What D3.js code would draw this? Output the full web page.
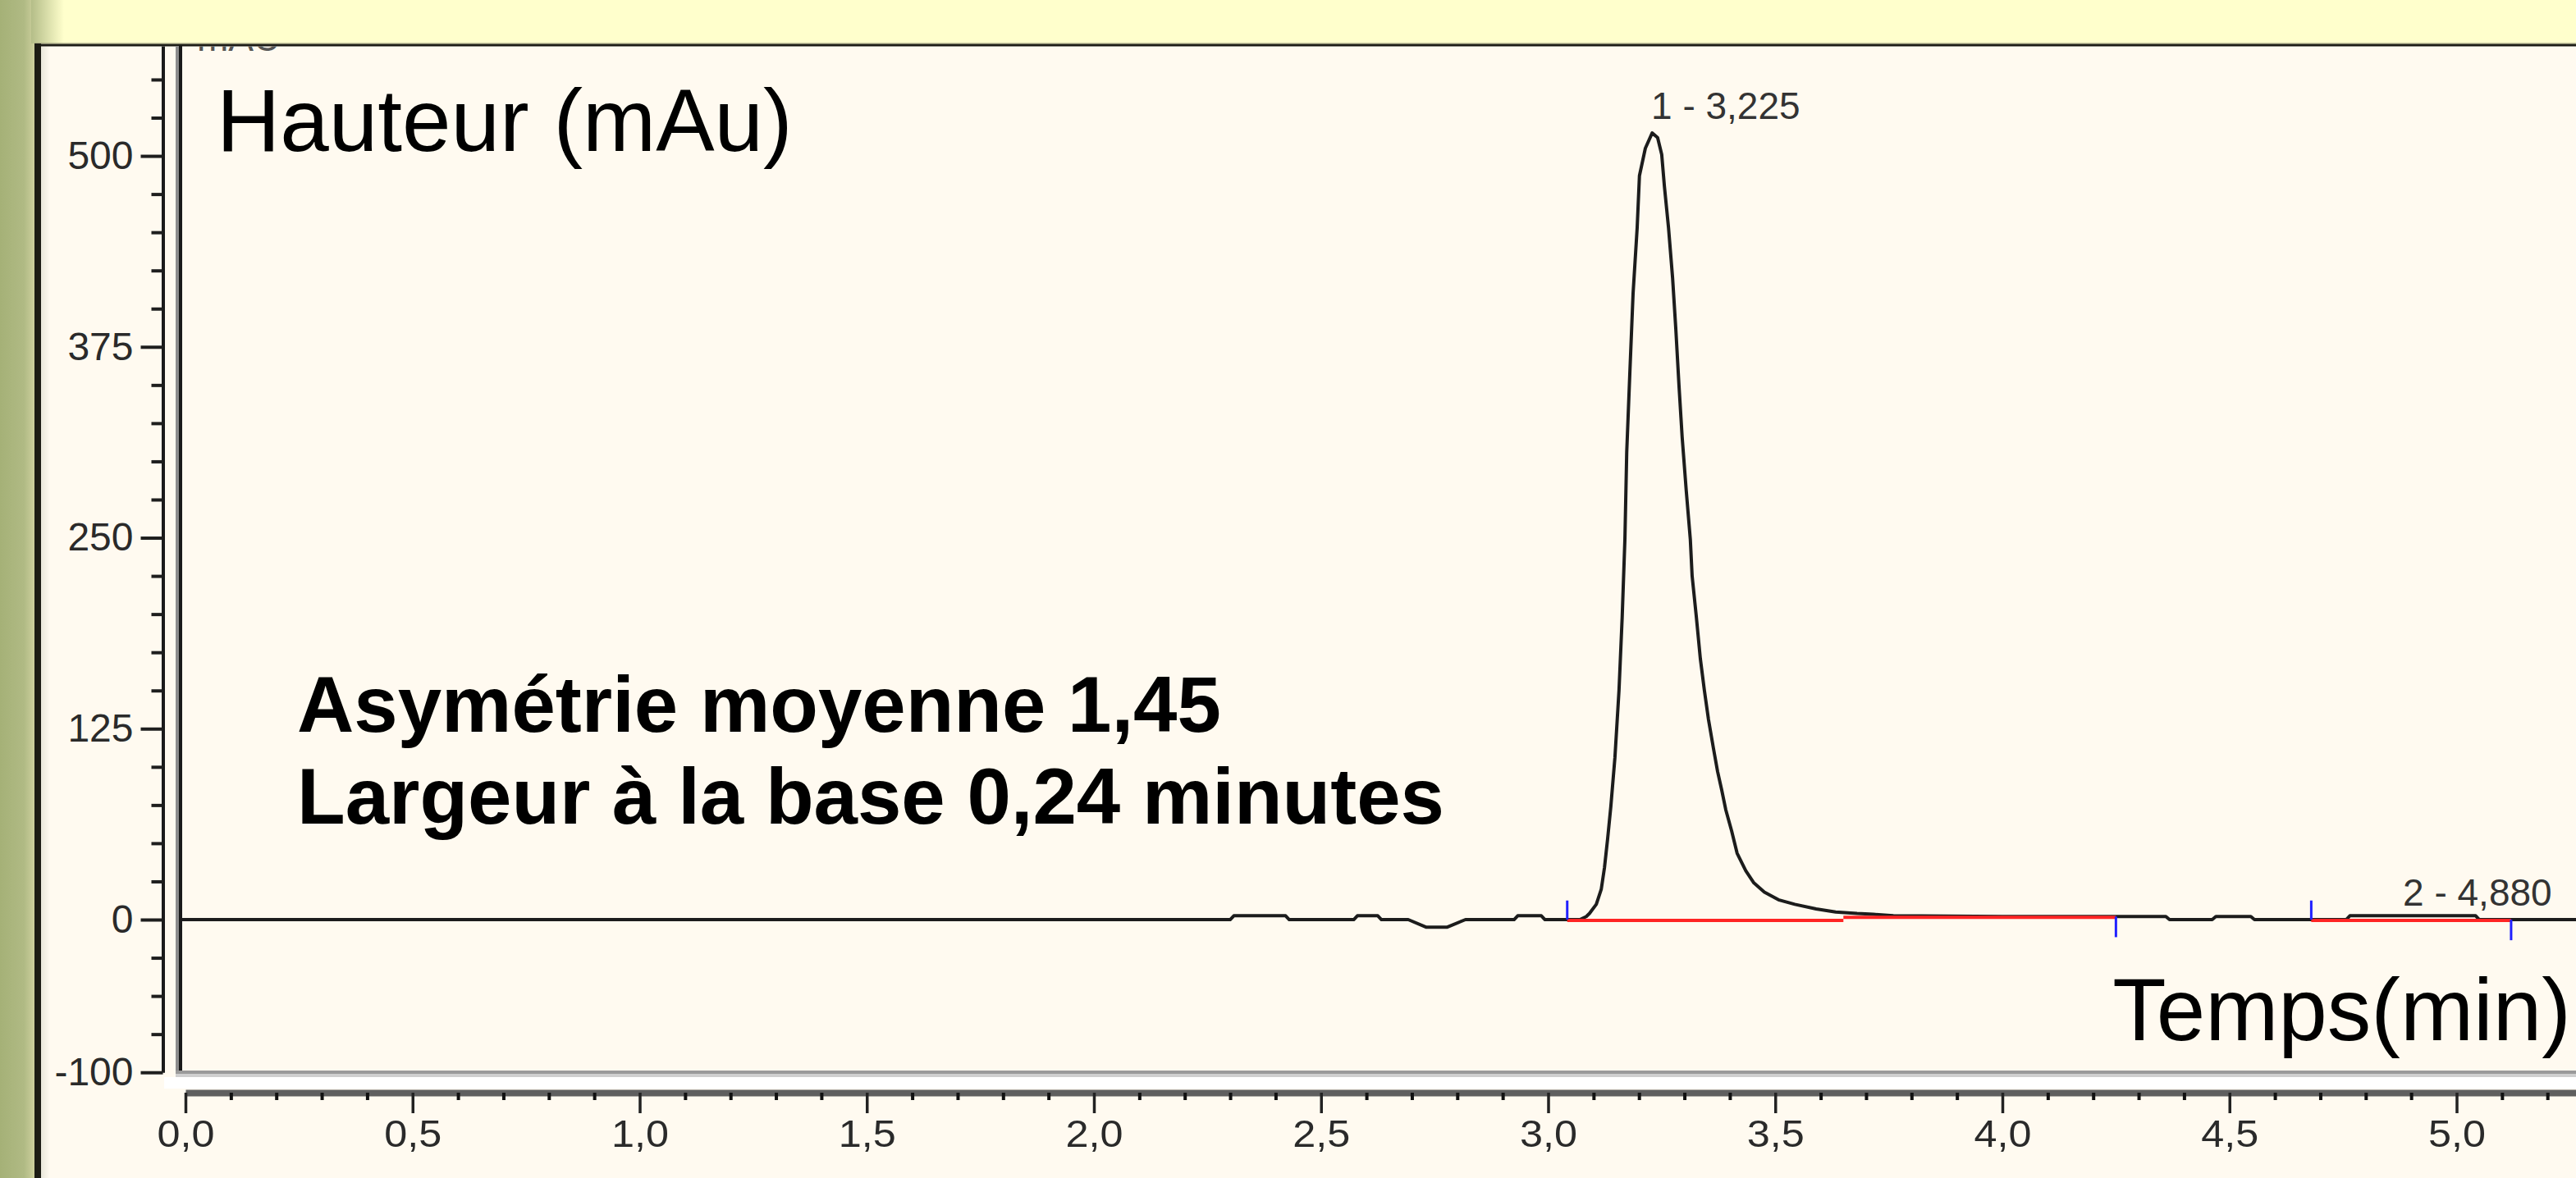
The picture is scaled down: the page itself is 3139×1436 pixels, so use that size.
<!DOCTYPE html>
<html>
<head>
<meta charset="utf-8">
<script src="https://cdn.jsdelivr.net/npm/d3@7"></script>
<style>
  html, body { margin: 0; padding: 0; background: #fffaf0; }
  svg { display: block; }
  text { font-family: Arial, "Liberation Sans", sans-serif; }
</style>
</head>
<body>
<svg id="chart" width="3139" height="1436"></svg>
<script>
// ---------- data ----------
const traceTime = [-0.02, 2.300, 2.308, 2.422, 2.430, 2.572, 2.580, 2.625, 2.633, 2.692, 2.732, 2.777, 2.818, 2.925, 2.933, 2.985, 2.993, 3.070, 3.084, 3.091, 3.106, 3.117, 3.124, 3.131, 3.138, 3.147, 3.156, 3.163, 3.169, 3.173, 3.180, 3.187, 3.196, 3.201, 3.214, 3.229, 3.241, 3.250, 3.256, 3.265, 3.274, 3.281, 3.288, 3.295, 3.304, 3.313, 3.317, 3.326, 3.335, 3.344, 3.353, 3.364, 3.373, 3.382, 3.391, 3.404, 3.416, 3.435, 3.453, 3.476, 3.507, 3.543, 3.590, 3.633, 3.680, 3.716, 3.760, 4.000, 4.250, 4.360, 4.368, 4.462, 4.470, 4.547, 4.555, 4.757, 4.765, 5.042, 5.050, 5.300];
const traceSignal = [0, 0, 2.5, 2.5, 0, 0, 2.5, 2.5, 0, 0, -5, -5, 0, 0, 2.5, 2.5, 0, 0, 2, 4, 10, 20, 34, 53, 74, 106, 150, 198, 249, 306, 359, 410, 453, 487, 505, 515, 512, 501, 480, 453, 420, 387, 350, 316, 281, 249, 225, 199, 171, 150, 131, 112, 97, 85, 72, 58, 43.5, 32, 24, 18, 13, 10, 7, 5, 4, 3.5, 2.5, 2, 2, 2, 0, 0, 2, 2, 0, 0, 2.5, 2.5, 0, 0];

const baselineStart = [3.042, 3.65, 4.68];
const baselineEnd   = [3.65, 4.25, 5.12];
const baselineLevel = [0, 2, 0];

const markerTime  = [3.042, 4.25, 4.68, 5.12];
const markerLevel = [0, 2, 0, 0];
const markerKind  = ["start", "end", "start", "end"];

const peakNum    = [1, 2];
const peakTime   = [3.225, 4.880];
const peakHeight = [515, 2.5];

const xMajorTicks = [0, 0.5, 1.0, 1.5, 2.0, 2.5, 3.0, 3.5, 4.0, 4.5, 5.0];
const xMinorTicks = d3.range(0, 53).map(i => i / 10).filter(v => Math.round(v * 10) % 5 !== 0);
const yMajorTicks = [-100, 0, 125, 250, 375, 500];
const yMinorTicks = [-75, -50, -25, 25, 50, 75, 100, 150, 175, 200, 225, 275, 300, 325, 350, 400, 425, 450, 475, 525, 550];

const yAxisTitle = "Hauteur (mAu)";
const xAxisTitle = "Temps(min)";
const unitLabel = "mAU";
const noteLines = ["Asymétrie moyenne 1,45", "Largeur à la base 0,24 minutes"];

// ---------- setup ----------
const W = 3139, H = 1436;
const svg = d3.select("#chart");
const fr = d3.formatLocale({decimal: ",", thousands: " ", grouping: [3], currency: ["", ""], minus: "-"});
const fmt1 = fr.format(".1f");
const fmt3 = fr.format(".3f");
const fmtInt = fr.format("d");

const x = d3.scaleLinear().domain([0, 5.3]).range([226, 226 + 5.3 * 553.5]);
const y = d3.scaleLinear().domain([-100, 572]).range([1307.2, 56]);

const defs = svg.append("defs");
const gl = defs.append("linearGradient").attr("id", "olive").attr("x1", 0).attr("x2", 1).attr("y1", 0).attr("y2", 0);
gl.append("stop").attr("offset", 0).attr("stop-color", "#a5b177");
gl.append("stop").attr("offset", 0.7).attr("stop-color", "#b0ba84");
gl.append("stop").attr("offset", 1).attr("stop-color", "#cdd09d");
const gt = defs.append("linearGradient").attr("id", "oliveTop").attr("x1", 0).attr("x2", 1).attr("y1", 0).attr("y2", 0);
gt.append("stop").attr("offset", 0).attr("stop-color", "#b4bd88");
gt.append("stop").attr("offset", 1).attr("stop-color", "#ffffcc");
const gi = defs.append("linearGradient").attr("id", "inner").attr("x1", 0).attr("x2", 1).attr("y1", 0).attr("y2", 0);
gi.append("stop").attr("offset", 0).attr("stop-color", "#e6e5d8");
gi.append("stop").attr("offset", 1).attr("stop-color", "#fffaf0");

defs.append("clipPath").attr("id", "plotClip").append("rect")
  .attr("x", 222).attr("y", 56).attr("width", W - 222).attr("height", 1305 - 56);
defs.append("clipPath").attr("id", "topClip").append("rect")
  .attr("x", 0).attr("y", 56.5).attr("width", W).attr("height", H);

// background
svg.append("rect").attr("width", W).attr("height", H).attr("fill", "#fffaf0");
svg.append("rect").attr("x", 0).attr("y", 0).attr("width", W).attr("height", 53).attr("fill", "#ffffcc");
svg.append("rect").attr("x", 0).attr("y", 0).attr("width", 42).attr("height", H).attr("fill", "url(#olive)");
svg.append("rect").attr("x", 38).attr("y", 0).attr("width", 40).attr("height", 53).attr("fill", "url(#oliveTop)");
svg.append("rect").attr("x", 49).attr("y", 56).attr("width", 12).attr("height", H - 56).attr("fill", "url(#inner)");
// frame lines
svg.append("rect").attr("x", 42).attr("y", 52.5).attr("width", W - 42).attr("height", 1.5).attr("fill", "#8a8a70");
svg.append("rect").attr("x", 42).attr("y", 54).attr("width", W - 42).attr("height", 2.5).attr("fill", "#1c1c16");
svg.append("rect").attr("x", 42).attr("y", 53).attr("width", 8).attr("height", H - 53).attr("fill", "#1c1c14");

// plot area borders
svg.append("rect").attr("x", 200).attr("y", 1313).attr("width", W - 200).attr("height", 14).attr("fill", "#ffffff");
svg.append("rect").attr("x", 214).attr("y", 56).attr("width", 4).attr("height", 1253).attr("fill", "#8c8c8c");
svg.append("rect").attr("x", 218).attr("y", 56).attr("width", 4).attr("height", 1249).attr("fill", "#1a1a1a");
svg.append("rect").attr("x", 214).attr("y", 1305).attr("width", W - 214).attr("height", 4).attr("fill", "#9a9a9a");
svg.append("rect").attr("x", 214).attr("y", 1309).attr("width", W - 214).attr("height", 4).attr("fill", "#cfcfcf");

// clipped unit label at top
svg.append("text").attr("clip-path", "url(#topClip)")
  .attr("x", 240).attr("y", 62).attr("font-size", 46).attr("fill", "#555").text(unitLabel);

// ---------- y axis ----------
const yAxisG = svg.append("g").attr("transform", "translate(198.5,0)")
  .call(d3.axisLeft(y).tickValues(yMajorTicks).tickSize(27).tickSizeOuter(0).tickPadding(9).tickFormat(fmtInt));
yAxisG.select(".domain").attr("stroke", "#1a1a1a").attr("stroke-width", 4);
yAxisG.selectAll(".tick line").attr("stroke", "#1e1e1e").attr("stroke-width", 4);
yAxisG.selectAll(".tick text").attr("font-size", 48).attr("fill", "#2a2a2a")
  .attr("font-family", "Arial, 'Liberation Sans', sans-serif");
const yMinorG = svg.append("g").attr("transform", "translate(198.5,0)")
  .call(d3.axisLeft(y).tickValues(yMinorTicks).tickSize(14).tickSizeOuter(0).tickFormat(""));
yMinorG.select(".domain").remove();
yMinorG.selectAll(".tick line").attr("stroke", "#1e1e1e").attr("stroke-width", 4);

// ---------- x axis ----------
const xAxisG = svg.append("g").attr("transform", "translate(0,1332)")
  .call(d3.axisBottom(x).tickValues(xMajorTicks).tickSize(25).tickSizeOuter(0).tickPadding(8).tickFormat(fmt1));
xAxisG.select(".domain").attr("stroke", "#5f5f5f").attr("stroke-width", 8);
xAxisG.selectAll(".tick line").attr("stroke", "#222").attr("stroke-width", 3.5);
xAxisG.selectAll(".tick text").attr("font-size", 46).attr("fill", "#2a2a2a")
  .attr("font-family", "Arial, 'Liberation Sans', sans-serif")
  .attr("textLength", 70).attr("lengthAdjust", "spacingAndGlyphs");
const xMinorG = svg.append("g").attr("transform", "translate(0,1332)")
  .call(d3.axisBottom(x).tickValues(xMinorTicks).tickSize(9).tickSizeOuter(0).tickFormat(""));
xMinorG.select(".domain").remove();
xMinorG.selectAll(".tick line").attr("stroke", "#111").attr("stroke-width", 4);

// ---------- plot ----------
const plot = svg.append("g").attr("clip-path", "url(#plotClip)");
const pts = traceTime.map((t, i) => [t, traceSignal[i]]);
const line = d3.line().x(d => x(d[0])).y(d => y(d[1]));
plot.append("path").datum(pts).attr("d", line)
  .attr("fill", "none").attr("stroke", "#1c1c1c").attr("stroke-width", 4).attr("stroke-linejoin", "round");

// integration baselines (red)
plot.selectAll("line.base").data(baselineStart).join("line").attr("class", "base")
  .attr("x1", (d) => x(d)).attr("x2", (d, i) => x(baselineEnd[i]))
  .attr("y1", (d, i) => y(baselineLevel[i]) + 1).attr("y2", (d, i) => y(baselineLevel[i]) + 1)
  .attr("stroke", "#ff2424").attr("stroke-width", 4);

// peak start / end markers (blue)
plot.selectAll("line.mark").data(markerTime).join("line").attr("class", "mark")
  .attr("x1", d => x(d)).attr("x2", d => x(d))
  .attr("y1", (d, i) => y(markerLevel[i]))
  .attr("y2", (d, i) => markerKind[i] === "start" ? y(markerLevel[i] + 12.5) : y(markerLevel[i] - 13.5))
  .attr("stroke", "#2020ff").attr("stroke-width", 3);

// peak labels
plot.selectAll("text.peak").data(peakTime).join("text").attr("class", "peak")
  .attr("x", (d) => x(d) + 1).attr("y", (d, i) => y(peakHeight[i]) - (i === 0 ? 17 : 12))
  .attr("font-size", 46).attr("fill", "#333")
  .text((d, i) => peakNum[i] + " - " + fmt3(d));

// ---------- titles / notes ----------
svg.append("text").attr("x", 264).attr("y", 184).attr("font-size", 107).attr("fill", "#000").text(yAxisTitle);
svg.append("text").attr("x", 3133).attr("y", 1268).attr("text-anchor", "end").attr("font-size", 107).attr("fill", "#000").text(xAxisTitle);
svg.selectAll("text.note").data(noteLines).join("text").attr("class", "note")
  .attr("x", 362).attr("y", (d, i) => 892 + i * 112)
  .attr("font-size", 96).attr("font-weight", "bold").attr("fill", "#000").text(d => d);
</script>
</body>
</html>
